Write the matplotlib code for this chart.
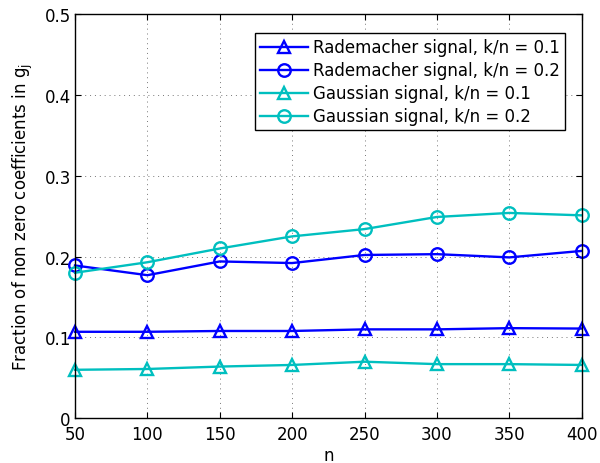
import matplotlib
matplotlib.use("Agg")
import matplotlib.pyplot as plt

n_values = [50, 100, 150, 200, 250, 300, 350, 400]
rademacher_01 = [0.107, 0.107, 0.108, 0.108, 0.110, 0.110, 0.1115, 0.111]
rademacher_02 = [0.189, 0.177, 0.194, 0.192, 0.202, 0.203, 0.199, 0.207]
gaussian_01 = [0.060, 0.061, 0.064, 0.066, 0.070, 0.067, 0.067, 0.066]
gaussian_02 = [0.180, 0.193, 0.210, 0.225, 0.234, 0.249, 0.254, 0.251]

labels = ["Rademacher signal, k/n = 0.1", "Rademacher signal, k/n = 0.2",
          "Gaussian signal, k/n = 0.1", "Gaussian signal, k/n = 0.2"]
xticks = [50, 100, 150, 200, 250, 300, 350, 400]
yticks = [0, 0.1, 0.2, 0.3, 0.4, 0.5]
ytick_labels = ["0", "0.1", "0.2", "0.3", "0.4", "0.5"]

plt.rcParams['font.family'] = ['DejaVu Sans']
plt.rcParams['mathtext.fontset'] = 'dejavusans'

fig = plt.figure(figsize=(6, 4.64), dpi=100)
ax = fig.add_axes([0.125, 0.0963, 0.8445, 0.8714])

blue = (0, 0, 1)
cyan = (0, 0.75, 0.75)
series = [(rademacher_01, blue, '^'), (rademacher_02, blue, 'o'),
          (gaussian_01, cyan, '^'), (gaussian_02, cyan, 'o')]
for (vals, col, mk), lab in zip(series, labels):
    ax.plot(n_values, vals, color=col, marker=mk, markersize=9,
            markerfacecolor='none', markeredgecolor=col, markeredgewidth=1.7,
            linewidth=1.7, label=lab, clip_on=False)

ax.set_xlim(50, 400)
ax.set_ylim(0, 0.5)
ax.set_xticks(xticks)
ax.set_xticklabels([str(v) for v in xticks])
ax.set_yticks(yticks)
ax.set_yticklabels(ytick_labels)
ax.grid(True, linestyle=(0, (1, 4)), color='#777777', linewidth=0.7)
ax.tick_params(direction='in', top=True, right=True, labelsize=12, length=4,
               pad=3, width=0.8)
ax.tick_params(axis='x', pad=5)
for s in ax.spines.values():
    s.set_linewidth(1.0)
ax.set_xlabel('n', fontsize=12, labelpad=2)
ax.set_ylabel('Fraction of non zero coefficients in g$_\\mathregular{j}$', fontsize=12, labelpad=7)

leg = ax.legend(loc='upper right', bbox_to_anchor=(0.967, 0.952), fontsize=12,
                fancybox=False, edgecolor='black', framealpha=1,
                handlelength=2.9, handletextpad=0.3, borderpad=0.3,
                labelspacing=0.3, borderaxespad=0)
leg.get_frame().set_linewidth(1.0)

fig.savefig('out.png', dpi=100)
